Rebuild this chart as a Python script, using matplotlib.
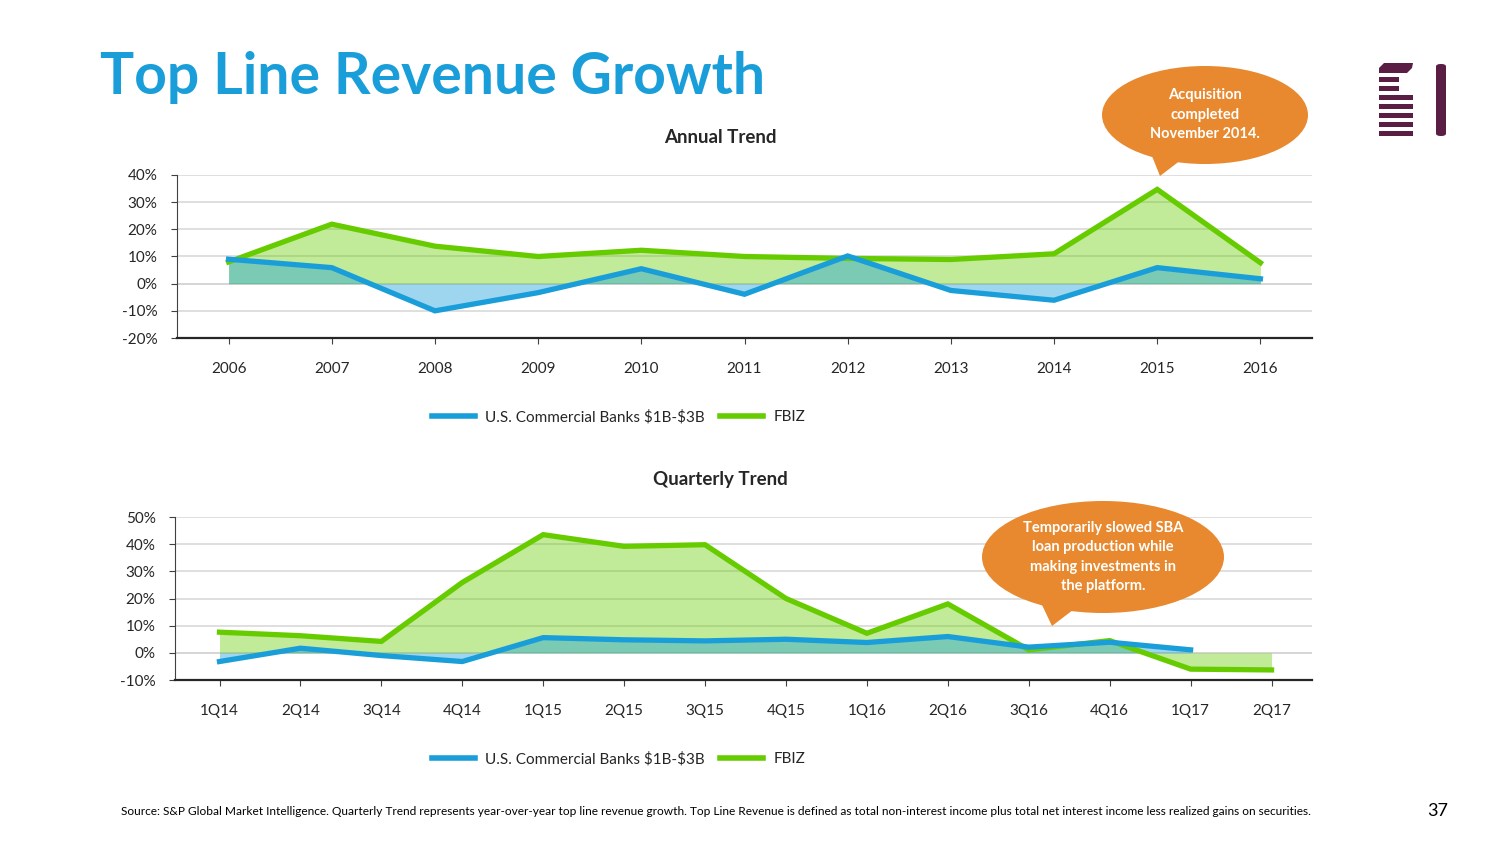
import numpy as np
import matplotlib.pyplot as plt
from matplotlib.patches import Ellipse, Polygon, FancyBboxPatch, Rectangle
from matplotlib.ticker import FuncFormatter
from matplotlib.lines import Line2D

# =====================================================
# Data
# =====================================================

years = ['2006', '2007', '2008', '2009', '2010', '2011',
         '2012', '2013', '2014', '2015', '2016']
annual_banks = [9.0, 5.9, -10.0, -3.3, 5.5, -3.9, 10.2, -2.5, -6.1, 5.9, 1.8]
annual_fbiz = [8.0, 21.9, 13.8, 10.0, 12.3, 10.0, 9.3, 8.9, 11.0, 34.7, 7.7]

quarters = ['1Q14', '2Q14', '3Q14', '4Q14', '1Q15', '2Q15', '3Q15',
            '4Q15', '1Q16', '2Q16', '3Q16', '4Q16', '1Q17', '2Q17']
quarterly_banks = [-3.2, 1.7, -1.0, -3.2, 5.6, 4.8, 4.4, 5.0, 3.8, 6.0,
                   2.1, 3.9, 1.1]
quarterly_fbiz = [7.6, 6.3, 4.2, 25.9, 43.5, 39.2, 39.8, 20.0, 7.2, 18.0,
                  1.1, 4.5, -6.0, -6.3]

series_names = [r'U.S. Commercial Banks \$1B-\$3B', 'FBIZ']

# =====================================================
# Style
# =====================================================

W, H = 1504, 846
BLUE = '#1a9ed9'
GREEN = '#66cc00'
ORANGE = '#e8892f'
PURPLE = '#5a1e44'
GRID = '#d9d9d9'
TXT = '#262626'

plt.rcParams['font.family'] = ['Lato', 'DejaVu Sans']

fig = plt.figure(figsize=(W / 100, H / 100), dpi=100)


def fx(px):
    return px / W


def fy(py):
    return 1 - py / H


def draw_panel(ax, labels, banks, fbiz, ylim, yticks):
    xb = np.arange(len(banks))
    xf = np.arange(len(fbiz))
    ax.fill_between(xf, fbiz, 0, color=GREEN, alpha=0.4, linewidth=0,
                    zorder=2)
    ax.fill_between(xb, banks, 0, color=BLUE, alpha=0.42, linewidth=0,
                    zorder=3)
    ax.plot(xf, fbiz, color=GREEN, linewidth=3.8, zorder=5,
            solid_joinstyle='miter')
    ax.plot(xb, banks, color=BLUE, linewidth=3.8, zorder=6,
            solid_joinstyle='miter')

    ax.set_xlim(-0.5, len(labels) - 0.5)
    ax.set_ylim(*ylim)
    ax.set_yticks(yticks)
    ax.yaxis.set_major_formatter(FuncFormatter(lambda v, p: f'{v:.0f}%'))
    ax.set_xticks(np.arange(len(labels)))
    ax.set_xticklabels(labels)
    ax.grid(axis='y', color=GRID, linewidth=1.2, zorder=0)
    ax.axhline(0, color='#bfbfbf', linewidth=1.2, zorder=1)
    for s in ['top', 'right']:
        ax.spines[s].set_visible(False)
    ax.spines['left'].set_color('#404040')
    ax.spines['bottom'].set_color('#262626')
    ax.spines['bottom'].set_linewidth(1.6)
    ax.tick_params(axis='y', length=4, color='#404040', labelsize=11,
                   labelcolor=TXT, pad=10)
    ax.tick_params(axis='x', length=4, color='#404040', labelsize=11,
                   labelcolor=TXT, pad=13)


# Annual panel
ax1 = fig.add_axes([fx(177), fy(338), fx(1312) - fx(177), fy(175) - fy(338)])
draw_panel(ax1, years, annual_banks, annual_fbiz, (-20, 40),
           np.arange(-20, 41, 10))

# Quarterly panel
ax2 = fig.add_axes([fx(175), fy(680), fx(1312) - fx(175), fy(517) - fy(680)])
draw_panel(ax2, quarters, quarterly_banks, quarterly_fbiz, (-10, 50),
           np.arange(-10, 51, 10))
ax2.set_xlim(-0.55, len(quarters) - 0.5)

# Panel titles
fig.text(fx(720), fy(137), 'Annual Trend', fontsize=13.5, fontweight='bold',
         color=TXT, ha='center', va='center')
fig.text(fx(720), fy(479), 'Quarterly Trend', fontsize=13.5,
         fontweight='bold', color=TXT, ha='center', va='center')

# Legends
handles = [Line2D([], [], color=BLUE, linewidth=4),
           Line2D([], [], color=GREEN, linewidth=4)]
for ly in (417, 759):
    fig.legend(handles, series_names, loc='center left',
               bbox_to_anchor=(fx(418), fy(ly)), ncol=2, frameon=False,
               fontsize=11, handlelength=2.8, handletextpad=0.7,
               columnspacing=1.0, labelcolor=TXT)

# =====================================================
# Title, footer
# =====================================================

fig.text(fx(100), fy(78), 'Top Line Revenue Growth', fontsize=41,
         fontweight='bold', color=BLUE, va='center', ha='left')

fig.text(fx(121), fy(811),
         'Source: S&P Global Market Intelligence. Quarterly Trend represents '
         'year-over-year top line revenue growth. Top Line Revenue is defined '
         'as total non-interest income plus total net interest income less '
         'realized gains on securities.',
         fontsize=8.6, color='#000000', va='center', ha='left')
fig.text(fx(1448), fy(811), '37', fontsize=13, color='#000000',
         va='center', ha='right')

# =====================================================
# Callouts
# =====================================================


def callout(cx, cy, w, h, tail, text, fs):
    tx0 = cx - w * 0.28
    poly = Polygon([(fx(tx0), fy(cy + h * 0.3)),
                    (fx(tx0 + w * 0.2), fy(cy + h * 0.4)),
                    (fx(tail[0]), fy(tail[1]))],
                   closed=True, facecolor=ORANGE, edgecolor='none',
                   transform=fig.transFigure, zorder=10)
    ell = Ellipse((fx(cx), fy(cy)), fx(w), h / H, facecolor=ORANGE,
                  edgecolor='none', transform=fig.transFigure, zorder=10)
    fig.add_artist(poly)
    fig.add_artist(ell)
    fig.text(fx(cx), fy(cy), text, ha='center', va='center', color='white',
             fontsize=fs, fontweight='bold', linespacing=1.5, zorder=11)


callout(1205, 115, 206, 98, (1160, 176),
        'Acquisition\ncompleted\nNovember 2014.', 10.5)
callout(1103, 557, 242, 112, (1052, 626),
        'Temporarily slowed SBA\nloan production while\nmaking investments in\nthe platform.', 10.5)

# =====================================================
# Logo
# =====================================================

fig.add_artist(Polygon([(fx(1379), fy(73)), (fx(1379), fy(68)),
                        (fx(1384), fy(63)), (fx(1413), fy(63)),
                        (fx(1412), fy(68)), (fx(1407), fy(73))],
                       closed=True, facecolor=PURPLE, edgecolor='none',
                       transform=fig.transFigure))
for y0, x1 in [(77, 1399), (86, 1399), (95, 1413), (104, 1413),
               (113, 1413), (122, 1413), (131, 1413)]:
    fig.add_artist(Rectangle((fx(1379), fy(y0 + 5)), fx(x1) - fx(1379),
                             5 / H, facecolor=PURPLE, edgecolor='none',
                             transform=fig.transFigure))
fig.add_artist(FancyBboxPatch((fx(1436), fy(136)), fx(10), 72 / H,
                              boxstyle='round,pad=0.0,rounding_size=0.003',
                              facecolor=PURPLE, edgecolor='none',
                              transform=fig.transFigure))

fig.savefig('out.png', dpi=100)
